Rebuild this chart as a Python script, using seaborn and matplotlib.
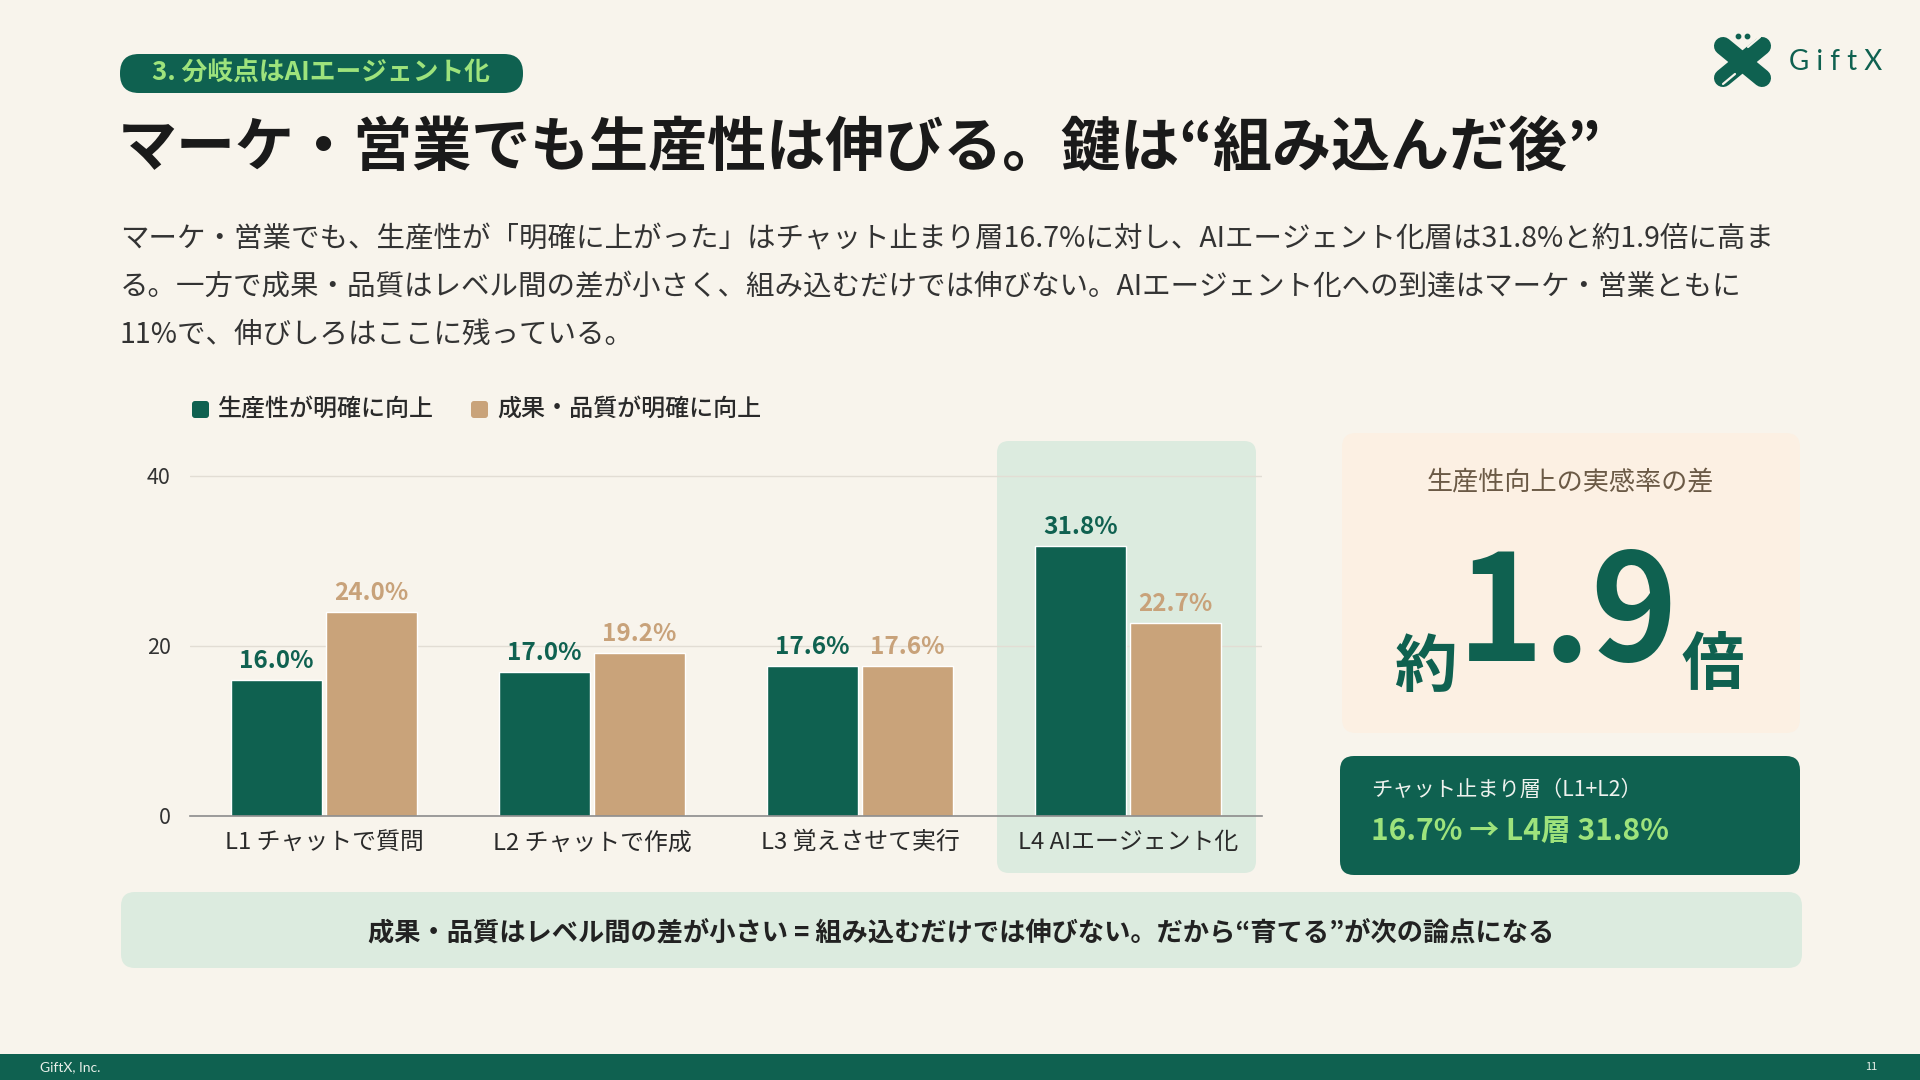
import numpy as np
import pandas as pd
import seaborn as sns
import matplotlib.pyplot as plt
from matplotlib.patches import FancyBboxPatch, Rectangle

sns.set_theme(style="white")
plt.rcParams["font.family"] = ["Noto Sans CJK JP", "DejaVu Sans"]

# data
levels = ["L1 チャットで質問", "L2 チャットで作成", "L3 覚えさせて実行", "L4 AIエージェント化"]
series = ["生産性が明確に向上", "成果・品質が明確に向上"]
productivity = [16.0, 17.0, 17.6, 31.8]
quality = [24.0, 19.2, 17.6, 22.7]
y_ticks = [0, 20, 40]

GREEN = "#0f6150"
TAN = "#c9a37a"
TAN_TXT = "#c8a27a"
BG = "#f8f4ec"
PALE_GREEN = "#dcebdf"
LIME = "#9ee37c"
DARK = "#1a1a1a"

df = pd.DataFrame({
    "level": levels * 2,
    "value": productivity + quality,
    "series": [series[0]] * len(levels) + [series[1]] * len(levels),
})

fig = plt.figure(figsize=(19.2, 10.8), dpi=100, facecolor=BG)

# background layer in pixel coords (y down)
bg = fig.add_axes([0, 0, 1, 1], zorder=0)
bg.set_xlim(0, 1920)
bg.set_ylim(1080, 0)
bg.axis("off")
bg.set_facecolor(BG)


def rbox(x0, y0, x1, y1, r, color):
    bg.add_patch(FancyBboxPatch((x0 + r, y0 + r), x1 - x0 - 2 * r, y1 - y0 - 2 * r,
                                boxstyle=f"round,pad={r}", fc=color, ec="none"))


# header
rbox(120, 54, 523, 93, 19, GREEN)
bg.text(152, 73, "3. 分岐点はAIエージェント化", color=LIME, fontsize=18.5,
        fontweight="bold", ha="left", va="center")
bg.text(118, 149, "マーケ・営業でも生産性は伸びる。鍵は“組み込んだ後”", color=DARK,
        fontsize=42.5, fontweight="bold", ha="left", va="center")

body = [
    "マーケ・営業でも、生産性が「明確に上がった」はチャット止まり層16.7%に対し、AIエージェント化層は31.8%と約1.9倍に高ま",
    "る。一方で成果・品質はレベル間の差が小さく、組み込むだけでは伸びない。AIエージェント化への到達はマーケ・営業ともに",
    "11%で、伸びしろはここに残っている。",
]
for i, line in enumerate(body):
    bg.text(120, 239 + i * 48, line, color="#333333", fontsize=20.5, ha="left", va="center")

# logo
bg.plot([1723, 1762], [46, 78], color=GREEN, lw=13, solid_capstyle="round")
bg.plot([1762, 1723], [46, 78], color=GREEN, lw=13, solid_capstyle="round")
bg.plot([1748, 1760], [47, 37], color=BG, lw=1.6)
bg.plot([1735, 1723], [74, 84], color=BG, lw=1.6)
bg.scatter([1738, 1747], [36, 36], s=10, color=GREEN, zorder=3)
bg.text(1789, 62, "G i f t X", color=GREEN, fontsize=20, ha="left", va="center",
        family=["Lato", "DejaVu Sans"])

# legend
for (x, label, c) in [(192, series[0], GREEN), (471, series[1], TAN)]:
    rbox(x, 401, x + 17, 418, 3, c)
    bg.text(x + 26, 409, label, color="#2a2a2a", fontsize=17.3, fontweight="medium",
            ha="left", va="center")

# highlight behind L4
rbox(997, 441, 1256, 873, 12, PALE_GREEN)

# chart
ax = fig.add_axes([190 / 1920, (1080 - 816) / 1080, 1072 / 1920, 374 / 1080], zorder=2)
ax.set_facecolor("none")
sns.barplot(data=df, x="level", y="value", hue="series", palette=[GREEN, TAN],
            width=0.71, gap=0.04, saturation=1, legend=False, ax=ax)
ax.set_xlim(-0.5, 3.5)
ax.set_ylim(0, 44)
ax.set_yticks(y_ticks)
ax.set_xlabel("")
ax.set_ylabel("")
ax.yaxis.grid(True, color="#e2ddd4", lw=1)
ax.set_axisbelow(True)
for s in ["top", "right", "left"]:
    ax.spines[s].set_visible(False)
ax.spines["bottom"].set_color("#8c8c8c")
ax.spines["bottom"].set_linewidth(1.2)
ax.tick_params(axis="both", length=0)
ax.tick_params(axis="y", pad=14, labelsize=15.5, labelcolor="#333333")
ax.tick_params(axis="x", pad=11, labelsize=17.2, labelcolor="#2a2a2a")

for cont, vals, c in zip(ax.containers, [productivity, quality], [GREEN, TAN_TXT]):
    ax.bar_label(cont, labels=[f"{v:.1f}%" for v in vals], padding=5, color=c,
                 fontsize=17.5, fontweight="bold")

# right cards
rbox(1342, 433, 1800, 733, 14, "#fcf0e3")
bg.text(1570, 483, "生産性向上の実感率の差", color="#6b5a46", fontsize=18.8,
        ha="center", va="center")
bg.text(1425, 667, "約", color=GREEN, fontsize=45, fontweight="bold", ha="center", va="center")
bg.text(1568, 661, "1.9", color=GREEN, fontsize=106, fontweight="bold", ha="center",
        va="baseline")
bg.text(1713, 665, "倍", color=GREEN, fontsize=45, fontweight="bold", ha="center", va="center")

rbox(1340, 756, 1800, 875, 14, GREEN)
bg.text(1371, 790, "チャット止まり層（L1+L2）", color="#eef2ee", fontsize=15.3,
        ha="left", va="center")
bg.text(1371, 831, "16.7% → L4層 31.8%", color=LIME, fontsize=21.5, fontweight="bold",
        ha="left", va="center")

# bottom band
rbox(121, 892, 1802, 968, 14, PALE_GREEN)
bg.text(961, 933, "成果・品質はレベル間の差が小さい = 組み込むだけでは伸びない。だから“育てる”が次の論点になる",
        color="#222222", fontsize=18.9, fontweight="bold", ha="center", va="center")

# footer
bg.add_patch(Rectangle((0, 1054), 1920, 26, fc=GREEN, ec="none"))
bg.text(40, 1067, "GiftX, Inc.", color="#e8efe9", fontsize=10, ha="left", va="center",
        family=["Lato", "DejaVu Sans"])
bg.text(1871, 1067, "11", color="#e8efe9", fontsize=8, ha="center", va="center")

fig.savefig("out.png", dpi=100, facecolor=BG)
